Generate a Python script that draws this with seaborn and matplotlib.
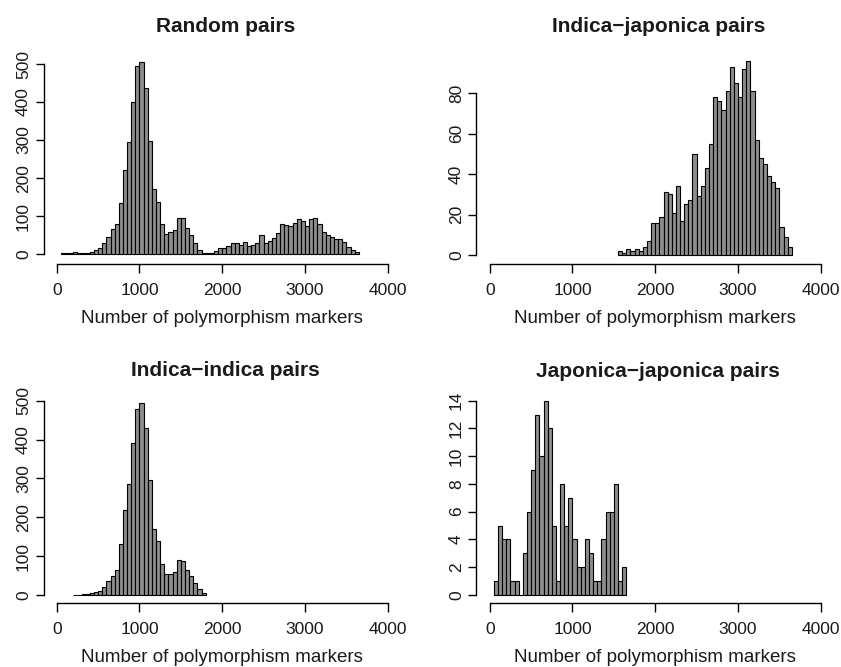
import numpy as np
import pandas as pd
import matplotlib
matplotlib.use("Agg")
import matplotlib.pyplot as plt
import seaborn as sns

sns.set_style("white")
plt.rcParams['font.family'] = ['Liberation Sans', 'DejaVu Sans']

BIN = 50

# Random pairs: bins start at 50
random_start = 50
random_counts = [3, 4, 4, 5, 2, 2, 3, 5, 10, 15, 30, 45, 65, 80, 135, 220, 295, 400,
                 495, 505, 437, 298, 170, 137, 78, 52, 59, 63, 94, 94, 70, 50, 30, 12,
                 3, 3, 3, 8, 15, 17, 22, 30, 30, 25, 33, 22, 25, 28, 50, 30, 35, 42,
                 55, 78, 76, 74, 83, 93, 88, 75, 92, 96, 80, 57, 50, 45, 40, 40, 33,
                 18, 12, 5]

# Indica-japonica pairs: bins start at 1550
ij_start = 1550
ij_counts = [2, 1, 3, 2, 3, 2, 4, 7, 16, 16, 19, 31, 30, 21, 34, 17, 25, 27, 50, 29,
             34, 43, 55, 78, 76, 72, 81, 93, 85, 78, 92, 96, 81, 57, 48, 45, 39, 36,
             33, 14, 9, 4]

# Indica-indica pairs: bins start at 200
ii_start = 200
ii_counts = [1, 1, 2, 3, 4, 7, 10, 20, 35, 50, 65, 130, 220, 285, 390, 480, 495, 430,
             295, 170, 140, 80, 53, 55, 60, 90, 88, 65, 50, 30, 15, 5]

# Japonica-japonica pairs: bins start at 50
jj_start = 50
jj_counts = [1, 5, 4, 4, 1, 1, 0, 3, 6, 9, 13, 10, 14, 12, 5, 1, 8, 5, 7, 4, 2, 2, 4,
             3, 1, 1, 4, 6, 6, 8, 1, 2]

titles = ["Random pairs", "Indica\u2212japonica pairs",
          "Indica\u2212indica pairs", "Japonica\u2212japonica pairs"]
xlabel = "Number of polymorphism markers"
xticks = [0, 1000, 2000, 3000, 4000]
yticks_list = [list(range(0, 501, 100)), list(range(0, 81, 20)),
               list(range(0, 501, 100)), list(range(0, 15, 2))]
ylims = [(-26, 529), (-4.5, 100), (-20.6, 520), (-0.58, 14.55)]

panels = [(random_start, random_counts), (ij_start, ij_counts),
          (ii_start, ii_counts), (jj_start, jj_counts)]

W, H = 841, 667
fig = plt.figure(figsize=(W / 100, H / 100), dpi=100)

TXT = '#1a1a1a'

# axes boxes in pixels: (left, top, right, bottom)
boxes = [(43.5, 53, 401, 264), (476.5, 53, 834, 264),
         (43.5, 393, 401, 603), (476.5, 393, 834, 603)]
title_baselines = [32, 32, 376, 377]

for i, (start, counts) in enumerate(panels):
    l, t, r, b = boxes[i]
    ax = fig.add_axes([l / W, 1 - b / H, (r - l) / W, (b - t) / H])
    counts = [float(c) for c in counts]
    n = len(counts)
    centers = [start + BIN * k + BIN / 2 for k in range(n)]
    df = pd.DataFrame({"x": centers, "w": counts})
    sns.histplot(data=df, x="x", weights="w", binwidth=BIN,
                 binrange=(start, start + BIN * n), ax=ax,
                 color="#8c8c8c", alpha=1.0, edgecolor="black", linewidth=0.8)
    ax.set_xlim(-160, 4160)
    ax.set_ylim(*ylims[i])
    ax.set_xticks(xticks)
    ax.set_xticklabels([str(v) for v in xticks], fontsize=12.5)
    yt = yticks_list[i]
    ax.set_yticks(yt)
    ax.set_yticklabels([str(v) for v in yt], fontsize=12.5, rotation=90, va="center")
    ax.spines['top'].set_visible(False)
    ax.spines['right'].set_visible(False)
    ax.spines['left'].set_bounds(yt[0], yt[-1])
    ax.spines['bottom'].set_bounds(0, 4000)
    for s in ('left', 'bottom'):
        ax.spines[s].set_linewidth(1.0)
        ax.spines[s].set_color('black')
    ax.tick_params(axis='x', bottom=True, length=6.5, width=1.0, direction='out', pad=7,
                   colors='black', labelcolor=TXT)
    ax.tick_params(axis='y', left=True, length=6, width=1.0, direction='out', pad=3,
                   colors='black', labelcolor=TXT)
    ax.set_xlabel(xlabel, fontsize=13.5, labelpad=9, color=TXT)
    ax.set_ylabel("")
    ax.grid(False)
    cx = (l + r) / 2 + 3
    fig.text(cx / W, 1 - title_baselines[i] / H, titles[i], fontsize=15,
             fontweight='bold', color=TXT, ha='center', va='baseline')

fig.savefig("out.png", dpi=100)
